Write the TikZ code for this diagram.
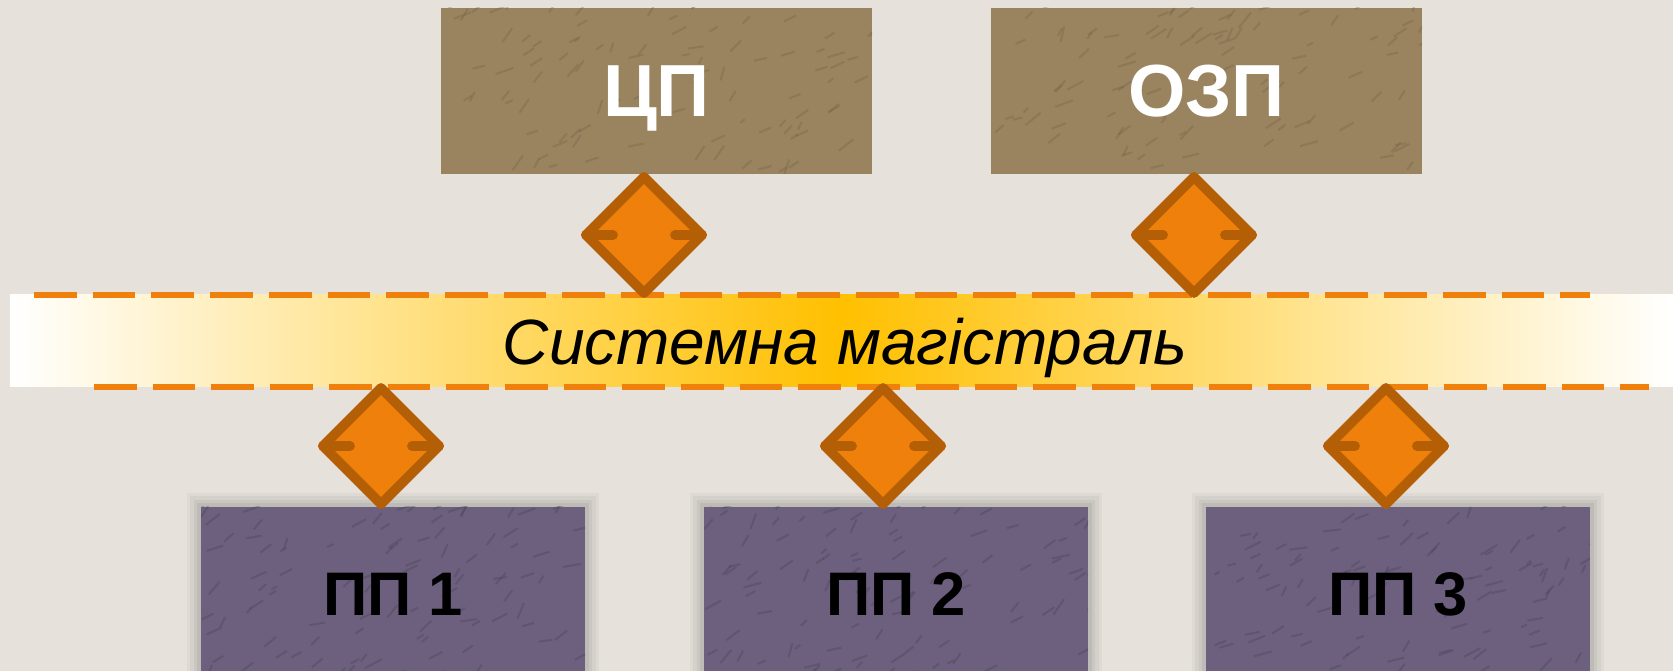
\documentclass[tikz,border=0pt]{standalone}
\usepackage{fontspec}
\setmainfont{Liberation Sans}
\usetikzlibrary{shapes.geometric}

\definecolor{paper}{RGB}{231,225,219}
\definecolor{sandbrown}{RGB}{154,132,96}
\definecolor{plumgrey}{RGB}{108,96,126}
\definecolor{portorange}{RGB}{239,128,11}
\definecolor{portedge}{RGB}{180,95,6}
\definecolor{busgold}{RGB}{255,192,0}

\tikzset{
  grain/.style={path picture={
      \foreach \k in {1,...,110}
        \draw[#1, line width=.6pt, opacity=.3]
          ([shift={(rnd*4.4,rnd*1.8)}]path picture bounding box.south west)
          -- ++(15+rnd*40:0.05+rnd*0.15);}},
  topbox/.style={fill=sandbrown, grain=sandbrown!70!black, inner sep=0pt,
    minimum width=4.31cm, minimum height=1.66cm, text=white, text depth=0pt,
    font=\bfseries\fontsize{21}{24}\selectfont},
  pubox/.style={fill=plumgrey, grain=plumgrey!65!black, inner sep=0pt,
    minimum width=3.84cm, minimum height=1.74cm, text=black, text depth=0pt,
    font=\bfseries\fontsize{17.5}{20}\selectfont,
    preaction={draw=black!60!paper, line width=8pt, opacity=.06},
    preaction={draw=black!60!paper, line width=6pt, opacity=.07},
    preaction={draw=black!60!paper, line width=4pt, opacity=.08},
    preaction={draw=black!60!paper, line width=2pt, opacity=.1}},
  port/.style={diamond, aspect=1, minimum size=1.16cm, inner sep=0pt, outer sep=0pt,
    fill=portorange, draw=portedge, line width=2.8pt, line join=round},
  porttick/.style={portedge, line width=2.8pt, line cap=round},
  busline/.style={portorange, line width=1.5pt, dash pattern=on 0.427cm off 0.16cm}
}

\begin{document}
\begin{tikzpicture}
\pgfmathsetseed{11}
\useasboundingbox (0,0) rectangle (16.73,6.71);
\clip (0,0) rectangle (16.73,6.71);
\fill[paper] (0,0) rectangle (16.73,6.71);

%%%%%
%% system bus
%%%%%
\shade[left color=white, right color=white, middle color=busgold] (0.10,2.84) rectangle (16.73,3.76);

\coordinate (BusTL) at (0.34,3.76);
\coordinate (BusTR) at (15.90,3.76);
\coordinate (BusBL) at (0.94,2.84);
\coordinate (BusBR) at (16.49,2.84);

\draw[busline] (BusTL) -- (BusTR);
\draw[busline] (BusBL) -- (BusBR);

\node[text depth=0pt, font=\itshape\fontsize{18.2}{21}\selectfont] (bus) at (8.45,3.30) {Системна магістраль};

%%%%%
%% CPU and RAM
%%%%%
\node[topbox] (cpu) at (6.565,5.80) {ЦП};
\node[topbox] (ram) at (12.065,5.80) {ОЗП};

%%%%%
%% peripherals
%%%%%
\node[pubox] (pu1) at (3.93,0.77) {ПП 1};
\node[pubox] (pu2) at (8.96,0.77) {ПП 2};
\node[pubox] (pu3) at (13.98,0.77) {ПП 3};

%%%%%
%% bus ports
%%%%%
\node[port] (pcpu) at (6.44,4.36) {};
\node[port] (pram) at (11.94,4.36) {};
\node[port] (ppu1) at (3.81,2.25) {};
\node[port] (ppu2) at (8.83,2.25) {};
\node[port] (ppu3) at (13.86,2.25) {};

\foreach \p in {pcpu,pram,ppu1,ppu2,ppu3}{
  \draw[porttick] (\p.west) -- ++(0.27,0);
  \draw[porttick] (\p.east) -- ++(-0.27,0);
}

\end{tikzpicture}
\end{document}
